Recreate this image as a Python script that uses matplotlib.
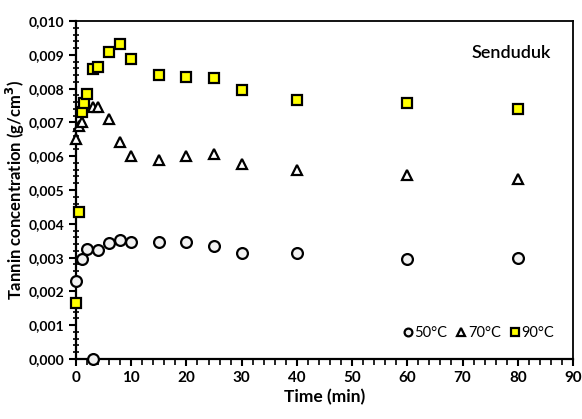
import matplotlib.pyplot as plt
from matplotlib.ticker import MultipleLocator, FuncFormatter

plt.rcParams["font.family"] = ["Lato", "DejaVu Sans"]

# ----- data -----
t50 = [0, 1, 2, 3, 4, 6, 8, 10, 15, 20, 25, 30, 40, 60, 80]
c50 = [0.00230, 0.00295, 0.00324, 0.0, 0.00322, 0.00344, 0.00353, 0.00345,
       0.00345, 0.00345, 0.00335, 0.00315, 0.00314, 0.00296, 0.00300]

t70 = [0, 0.5, 1, 3, 4, 6, 8, 10, 15, 20, 25, 30, 40, 60, 80]
c70 = [0.00652, 0.00690, 0.00700, 0.00747, 0.00745, 0.00710, 0.00641, 0.00600,
       0.00590, 0.00600, 0.00607, 0.00577, 0.00560, 0.00543, 0.00533]

t90 = [0, 0.5, 1, 1.5, 2, 3, 4, 6, 8, 10, 15, 20, 25, 30, 40, 60, 80]
c90 = [0.00165, 0.00435, 0.00730, 0.00757, 0.00784, 0.00857, 0.00865, 0.00907,
       0.00933, 0.00889, 0.00841, 0.00835, 0.00831, 0.00797, 0.00766, 0.00756, 0.00739]

fig = plt.figure(figsize=(5.82, 4.19), dpi=100)
ax = fig.add_axes([0.1306, 0.1432, 0.8539, 0.8067])

ax.plot(t50, c50, "o", ms=7.8, mfc="#f2f2f2", mec="black", mew=1.6, ls="none", label="50°C", clip_on=False, zorder=3)
ax.plot(t70, c70, "^", ms=7.5, mfc="white", mec="black", mew=1.6, ls="none", label="70°C", clip_on=False, zorder=4)
ax.plot(t90, c90, "s", ms=7.8, mfc="#ffff00", mec="black", mew=1.6, ls="none", label="90°C", clip_on=False, zorder=5)

ax.set_xlim(0, 90)
ax.set_ylim(0, 0.010)
ax.xaxis.set_major_locator(MultipleLocator(10))
ax.xaxis.set_minor_locator(MultipleLocator(2))
ax.yaxis.set_major_locator(MultipleLocator(0.001))
ax.yaxis.set_minor_locator(MultipleLocator(0.0002))
ax.yaxis.set_major_formatter(FuncFormatter(lambda v, p: ("%.3f" % v).replace(".", ",")))

ax.tick_params(axis="both", which="major", direction="out", length=5, width=1.5, labelsize=10)
ax.tick_params(axis="x", which="major", labelsize=11)
ax.tick_params(axis="y", which="minor", direction="inout", length=5, width=1.2)
ax.tick_params(axis="x", which="minor", direction="out", length=4, width=1.2)
for lab in ax.get_xticklabels() + ax.get_yticklabels():
    lab.set_fontweight("bold")

for s in ["left", "bottom"]:
    ax.spines[s].set_linewidth(1.6)
for s in ["top", "right"]:
    ax.spines[s].set_linewidth(1.3)

ax.set_xlabel("Time (min)", fontsize=12.5, fontweight="bold", labelpad=3)
ax.set_ylabel("Tannin concentration (g/cm$^{\\mathbf{3}}$)", fontsize=12, fontweight="bold")
ax.yaxis.set_label_coords(-0.098, 0.5)

ax.text(0.955, 0.905, "Senduduk", transform=ax.transAxes, ha="right", va="center",
        fontsize=13, fontweight="semibold")

leg = ax.legend(loc="lower right", ncol=3, frameon=False, fontsize=10.5, handletextpad=0.0,
                columnspacing=0.5, handlelength=0.9, markerscale=0.72, borderaxespad=0.9)

fig.savefig("out.png", dpi=100)
